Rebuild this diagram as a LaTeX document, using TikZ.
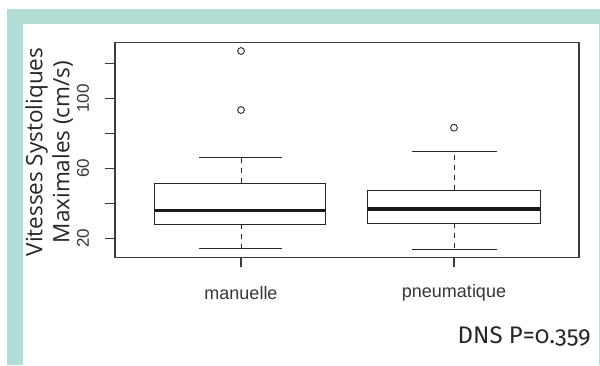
\documentclass[tikz,border=0pt]{standalone}
\usepackage{fontspec}
\setmainfont{Liberation Sans}
\newfontfamily\titlefont{Open Sans}
\newfontfamily\dnsfont[Numbers=OldStyle]{Fira Sans}
\definecolor{bandteal}{RGB}{178,221,212}
\definecolor{plotgray}{RGB}{60,60,60}
\definecolor{labgray}{RGB}{55,55,55}
\tikzset{
  frameline/.style={draw=plotgray, line width=1.1pt},
  boxline/.style={draw=black!85, line width=1.1pt},
  medianline/.style={draw=black!90, line width=3.4pt},
  whiskdash/.style={draw=black!85, line width=1pt, dash pattern=on 5pt off 5pt},
  whiskcap/.style={draw=black!85, line width=1pt},
  outlier/.style={draw=black!85, line width=0.9pt, fill=white},
  ticklab/.style={font=\fontsize{17}{19}\selectfont, text=labgray, rotate=90, inner sep=0pt},
  catlab/.style={font=\fontsize{18}{20}\selectfont, text=labgray, inner sep=0pt},
}
\begin{document}
\begin{tikzpicture}[x=1pt,y=-1pt]
\useasboundingbox (0,0) rectangle (600,365);
\fill[white] (0,0) rectangle (600,365);
% teal frame
\fill[bandteal] (7,9) rectangle (600,24);
\fill[bandteal] (7,9) rectangle (23,365);
\fill[bandteal] (598.6,24) rectangle (600,365);
% plot frame
\draw[frameline] (115,42.7) rectangle (579,257.7);
% y ticks
\foreach \v in {20,40,...,120}{
  \pgfmathsetmacro{\yy}{238.3-(\v-20)*1.745}
  \draw[frameline] (105,\yy) -- (115,\yy);
}
\node[ticklab] (t20) at (83,238.3) {20};
\node[ticklab] (t60) at (83,168.5) {60};
\node[ticklab] (t100) at (83,98.7) {100};
% x ticks
\coordinate (m1top) at (241,257.7);
\coordinate (m1bot) at (241,267);
\coordinate (m2top) at (454,257.7);
\coordinate (m2bot) at (454,267);
\draw[frameline] (m1top) -- (m1bot);
\draw[frameline] (m2top) -- (m2bot);
% box 1
\coordinate (b1q3) at (241,183.3);
\coordinate (b1q1) at (241,224.3);
\coordinate (b1hi) at (241,157.5);
\coordinate (b1lo) at (241,248.3);
\draw[whiskdash] (b1q3) -- (b1hi);
\draw[whiskdash] (b1q1) -- (b1lo);
\draw[whiskcap] (199.3,157.5) -- (282.3,157.5);
\draw[whiskcap] (199.3,248.3) -- (282.3,248.3);
\draw[boxline] (154.7,183.3) rectangle (325.7,224.3);
\draw[medianline] (154.7,210.3) -- (325.7,210.3);
\draw[outlier] (241,51) circle (3.4);
\draw[outlier] (241,110) circle (3.4);
% box 2
\coordinate (b2q3) at (454,190.3);
\coordinate (b2q1) at (454,223.3);
\coordinate (b2hi) at (454,151.3);
\coordinate (b2lo) at (454,249.3);
\draw[whiskdash] (b2q3) -- (b2hi);
\draw[whiskdash] (b2q1) -- (b2lo);
\draw[whiskcap] (411.7,151.3) -- (496.7,151.3);
\draw[whiskcap] (411.7,249.3) -- (496.7,249.3);
\draw[boxline] (367.7,190.3) rectangle (540.3,223.3);
\draw[medianline] (367.7,209) -- (540.3,209);
\draw[outlier] (454,127.7) circle (3.4);
% category labels
\node[catlab] (lab1) at (241,293) {manuelle};
\node[catlab] (lab2) at (454,293) {pneumatique};
% y title
\node[rotate=90, align=center, inner sep=0pt, text=black!85,
      font=\titlefont\fontsize{22.5}{27}\selectfont] (ytitle) at (49,152)
  {Vitesses Systoliques\\Maximales (cm/s)};
% p value
\node[anchor=east, inner sep=0pt, text=black!85,
      font=\dnsfont\fontsize{24}{27}\selectfont] (pval) at (591,337) {DNS P=0.359};
\end{tikzpicture}
\end{document}
